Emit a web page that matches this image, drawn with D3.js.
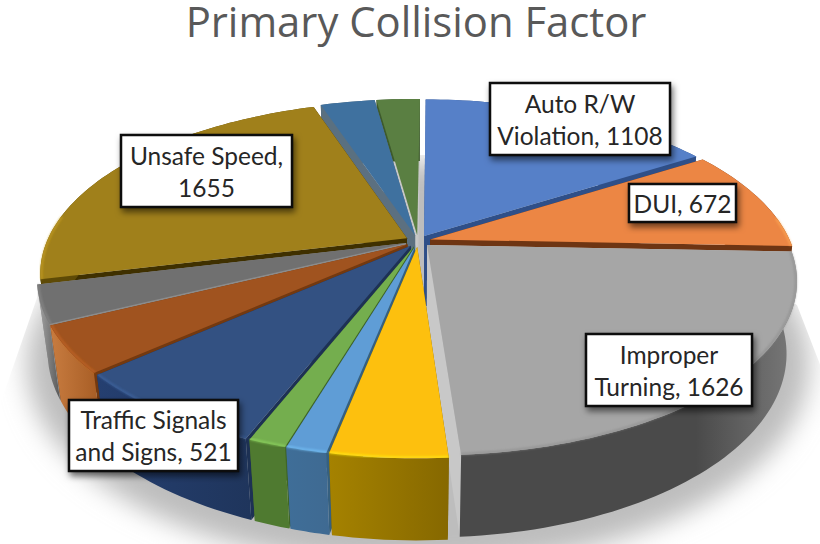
<!DOCTYPE html>
<html><head><meta charset="utf-8">
<script src="https://cdnjs.cloudflare.com/ajax/libs/d3/7.8.5/d3.min.js"></script>
<style>html,body{margin:0;padding:0;background:#fff}svg{display:block}</style>
</head><body><div id="c"></div>
<script>
const titleText = "Primary Collision Factor";
const categories = ["Auto R/W Violation","DUI","Improper Turning","Slice 4","Slice 5","Slice 6","Traffic Signals and Signs","Slice 8","Slice 9","Unsafe Speed","Slice 11","Slice 12"];
const values = [1108,672,1626,295,103,96,521,300,244,1655,204,163];
const labelLines = {
  "Auto R/W Violation":["Auto R/W","Violation, 1108"],
  "DUI":["DUI, 672"],
  "Improper Turning":["Improper","Turning, 1626"],
  "Traffic Signals and Signs":["Traffic Signals","and Signs, 521"],
  "Unsafe Speed":["Unsafe Speed,","1655"]
};
const topColors = ["#5680c8","#ec8644","#a6a6a6","#fdc00e","#5f9dd6","#74ae4e","#335182","#a0531f","#707070","#a0801b","#3f719f","#5a7f42"];
const wallColors = [["#2f4f88","#2f4f88"],["#6e3513","#6e3513"],["#4a4a4a","#7a7a7a"],["#a58200","#866800"],["#3f6e98","#3f6a92"],["#4f7a30","#4f7a30"],["#253f70","#1f355c"],["#c87c40","#a45a22"],["#a8a8a8","#585858"],["#5e4a06","#5e4a06"],["#5a7080","#5a7080"],["#3d5a2c","#3d5a2c"]];
const sideColors = ["#2f4f88","#6e3513","#c8c8c8","#7a5e00","#36607f","#3f6526","#1d3154","#74390f","#8c8c8c","#3f3000","#5c7080","#c8c8c8"];
const boxes = {
  "Auto R/W Violation":[490,83,180,72],
  "DUI":[629,184,107,38],
  "Improper Turning":[586,334,166,72],
  "Traffic Signals and Signs":[69,400,169,71],
  "Unsafe Speed":[121,135,171,72]
};
const floorOutline = [[38,295],[300,155],[540,155],[797,305],[880,520],[880,560],[-60,560],[-40,520]];

const W=820,H=544, cx=418, cy=241, a=360, k=166, p=0.2023, q=0.027, h=73, gap=0.035, startDeg=0.5;
const svg=d3.select("#c").append("svg").attr("width",W).attr("height",H).attr("viewBox",`0 0 ${W} ${H}`);
const defs=svg.append("defs");
const project=(X,Y,Z)=>{const w=1+p*Y+q*Z;return [cx+a*X/w, cy+(-k*Y+h*Z)/w];};
const s0=startDeg*Math.PI/180;
const arcs=d3.pie().sort(null).value(d=>d).startAngle(s0).endAngle(s0+2*Math.PI)(values);
const line=d3.line();

defs.append("filter").attr("id","soft").attr("x","-20%").attr("y","-20%").attr("width","140%").attr("height","140%")
  .append("feGaussianBlur").attr("stdDeviation",13);
defs.append("clipPath").attr("id","floorClip").append("path").attr("d",line(floorOutline)+"Z");
const foot=d3.range(0,361,3).map(t=>{const r=t*Math.PI/180;return project(1.08*Math.sin(r),1.08*Math.cos(r)-0.05,1);});
svg.append("g").attr("clip-path","url(#floorClip)")
  .append("path").attr("d",line(foot)+"Z").attr("fill","#bdbdbd").attr("filter","url(#soft)");

svg.append("text").attr("x",416).attr("y",37).attr("text-anchor","middle")
 .attr("font-family","'Open Sans'").attr("font-size",41.8).attr("fill","#595959").text(titleText);

defs.append("filter").attr("id","rim").attr("x","-10%").attr("y","-10%").attr("width","120%").attr("height","120%")
  .append("feGaussianBlur").attr("stdDeviation",1);

const order=arcs.map((d,i)=>({d,i,mid:(d.startAngle+d.endAngle)/2}))
  .sort((u,v)=>Math.cos(v.mid)-Math.cos(u.mid));

order.forEach(({d,i,mid})=>{
  const ox=gap*Math.sin(mid), oy=gap*Math.cos(mid);
  const n=Math.max(8,Math.ceil((d.endAngle-d.startAngle)*40));
  const ang=d3.range(n+1).map(j=>d.startAngle+(d.endAngle-d.startAngle)*j/n);
  const P=(t,r,Z)=>project(ox+r*Math.sin(t),oy+r*Math.cos(t),Z);
  const g=svg.append("g");
  [d.startAngle,d.endAngle].forEach(t=>{
    g.append("path").attr("fill",sideColors[i])
     .attr("d",line([P(t,0,0),P(t,1,0),P(t,1,1),P(t,0,1)])+"Z");
  });
  const topArc=ang.map(t=>P(t,1,0)), botArc=ang.map(t=>P(t,1,1));
  const xs=topArc.concat(botArc).map(c=>c[0]);
  const gid="wall"+i;
  const lg=defs.append("linearGradient").attr("id",gid).attr("gradientUnits","userSpaceOnUse")
    .attr("x1",d3.min(xs)).attr("x2",d3.max(xs)).attr("y1",0).attr("y2",0);
  lg.append("stop").attr("offset",0).attr("stop-color",wallColors[i][0]);
  lg.append("stop").attr("offset",i===2?0.7:0).attr("stop-color",wallColors[i][0]);
  lg.append("stop").attr("offset",1).attr("stop-color",wallColors[i][1]);
  g.append("path").attr("fill",`url(#${gid})`)
   .attr("d",line(topArc.concat(botArc.slice().reverse()))+"Z");
  g.append("path").attr("fill",topColors[i])
   .attr("d",line([P(d.startAngle,0,0)].concat(topArc))+"Z");
  const front=ang.filter(t=>Math.cos(t)<0.15);
  if(front.length>1){
    g.append("path").attr("fill","none").attr("filter","url(#rim)")
     .attr("stroke",i===2?"#8a8a8a":d3.color(topColors[i]).brighter(0.7)).attr("stroke-width",2).attr("stroke-opacity",.7)
     .attr("d",line(front.map(t=>P(t,0.997,0))));
  }
});

const ds=defs.append("filter").attr("id","boxShadow").attr("x","-20%").attr("y","-20%").attr("width","140%").attr("height","150%");
ds.append("feGaussianBlur").attr("in","SourceAlpha").attr("stdDeviation",3);
ds.append("feOffset").attr("dx",2).attr("dy",4).attr("result","o");
ds.append("feFlood").attr("flood-color","#000").attr("flood-opacity",.55);
ds.append("feComposite").attr("in2","o").attr("operator","in");
const mg=ds.append("feMerge");mg.append("feMergeNode");mg.append("feMergeNode").attr("in","SourceGraphic");

categories.forEach(c=>{
  if(!labelLines[c])return;
  const [x,y,w,ht]=boxes[c], lines=labelLines[c];
  svg.append("rect").attr("x",x).attr("y",y).attr("width",w).attr("height",ht)
   .attr("fill","#fff").attr("stroke","#0a0a0a").attr("stroke-width",2.5).attr("filter","url(#boxShadow)");
  const lh=32;
  const y0=y+ht/2-(lines.length-1)*lh/2+9.5;
  lines.forEach((t,j)=>svg.append("text").attr("x",x+w/2).attr("y",y0+j*lh)
    .attr("text-anchor","middle").attr("font-family","Lato").attr("font-size",24.5).attr("fill","#262626").text(t));
});
</script></body></html>
